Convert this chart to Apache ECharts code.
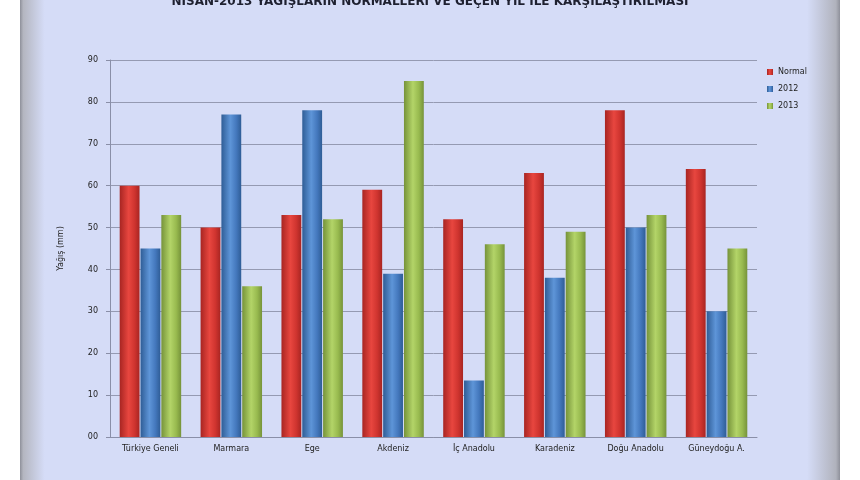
<!DOCTYPE html>
<html>
<head>
<meta charset="utf-8">
<script src="https://cdn.jsdelivr.net/npm/echarts@6/dist/echarts.min.js"></script>
<style>
  html, body { margin: 0; padding: 0; background: #fff; }
  #chart { width: 860px; height: 480px; }
</style>
</head>
<body>
<div id="chart"></div>
<script>
var regions = ['Türkiye Geneli', 'Marmara', 'Ege', 'Akdeniz', 'İç Anadolu', 'Karadeniz', 'Doğu Anadolu', 'Güneydoğu A.'];
var normalValues = [60, 50, 53, 59, 52, 63, 78, 64];
var values2012 = [45, 77, 78, 39, 13.5, 38, 50, 30];
var values2013 = [53, 36, 52, 85, 46, 49, 53, 45];
var seriesNames = ['Normal', '2012', '2013'];

function barColor(dark, mid, light) {
    return new echarts.graphic.LinearGradient(0, 0, 1, 0, [
        {offset: 0, color: dark},
        {offset: 0.45, color: light},
        {offset: 0.75, color: mid},
        {offset: 1, color: dark}
    ]);
}

var chart = echarts.init(document.getElementById('chart'), null, {renderer: 'canvas'});

chart.setOption({
    backgroundColor: '#ffffff',
    animation: false,
    graphic: [{
        type: 'rect',
        z: -10,
        shape: {x: 20, y: 0, width: 820, height: 480},
        style: {
            fill: new echarts.graphic.LinearGradient(0, 0, 1, 0, [
                {offset: 0, color: '#8e909a'},
                {offset: 0.004, color: '#b4b6c0'},
                {offset: 0.03, color: '#d5dcf7'},
                {offset: 0.96, color: '#d5dcf7'},
                {offset: 0.995, color: '#b0b2bc'},
                {offset: 1, color: '#8e909a'}
            ])
        }
    }],
    title: {
        text: 'NİSAN-2013 YAĞIŞLARIN NORMALLERİ VE GEÇEN YIL İLE KARŞILAŞTIRILMASI',
        left: 'center',
        top: -9,
        textStyle: {fontFamily: 'DejaVu Sans', fontSize: 12, fontWeight: 'bold', color: '#1e2030'}
    },
    legend: {
        data: seriesNames,
        orient: 'vertical',
        left: 762,
        top: 63,
        itemWidth: 6,
        itemHeight: 6,
        itemGap: 9,
        icon: 'rect',
        textStyle: {fontFamily: 'DejaVu Sans', fontSize: 8, color: '#222'}
    },
    grid: {left: 110, right: 103, top: 60, bottom: 43},
    xAxis: {
        type: 'category',
        data: regions,
        axisLine: {lineStyle: {color: '#8a8fa8'}},
        axisTick: {show: false},
        axisLabel: {fontFamily: 'DejaVu Sans', fontSize: 8, color: '#222', margin: 8}
    },
    yAxis: {
        type: 'value',
        min: 0,
        max: 90,
        interval: 10,
        name: 'Yağış (mm)',
        nameLocation: 'middle',
        nameGap: 45,
        nameTextStyle: {fontFamily: 'DejaVu Sans', fontSize: 8, color: '#222'},
        axisLine: {show: true, lineStyle: {color: '#8a8fa8'}},
        axisTick: {show: true, length: 4, lineStyle: {color: '#8a8fa8'}},
        axisLabel: {
            fontFamily: 'DejaVu Sans', fontSize: 8, color: '#222', margin: 12,
            formatter: function (v) { return (v < 10 ? '0' : '') + v; }
        },
        splitLine: {lineStyle: {color: '#959ab2', width: 1}}
    },
    series: [
        {
            name: seriesNames[0], type: 'bar', data: normalValues,
            barGap: '5%', barCategoryGap: '24%',
            itemStyle: {color: barColor('#a82522', '#cf342f', '#e8463f')}
        },
        {
            name: seriesNames[1], type: 'bar', data: values2012,
            itemStyle: {color: barColor('#2f5d96', '#4478bd', '#5e95d8')}
        },
        {
            name: seriesNames[2], type: 'bar', data: values2013,
            itemStyle: {color: barColor('#76933a', '#98ba4f', '#b3d468')}
        }
    ]
});
</script>
</body>
</html>
